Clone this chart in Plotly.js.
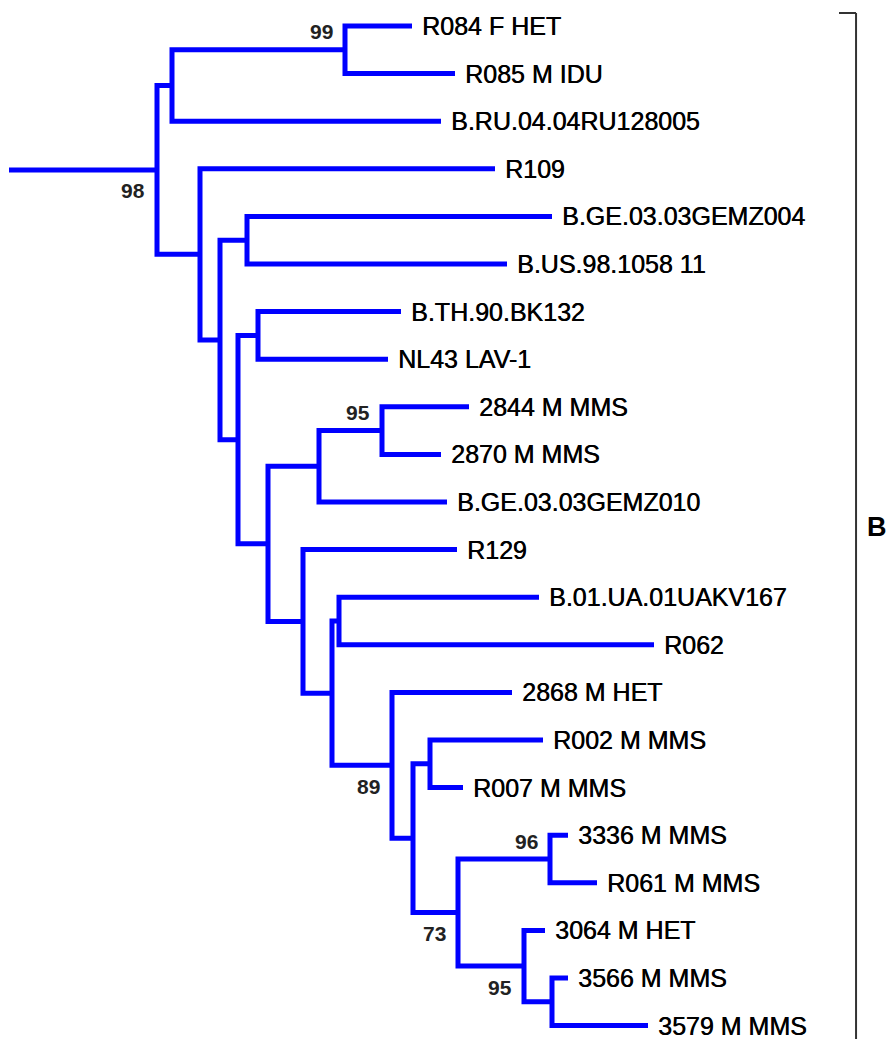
<!DOCTYPE html>
<html>
<head>
<meta charset="utf-8">
<script src="https://cdn.plot.ly/plotly-3.0.1.min.js"></script>
<style>
  html, body { margin: 0; padding: 0; background: #ffffff; }
  #tree { width: 887px; height: 1039px; }
</style>
</head>
<body>
<div id="tree"></div>
<script>
// Phylogenetic tree, subtype B cluster.
// Nodes listed in drawing order (depth-first); leaves are nodes without children.
const nodeIds = [
  'root', 'a', 'n99', 'R084 F HET', 'R085 M IDU', 'B.RU.04.04RU128005',
  'b', 'R109', 'c', 'geus', 'B.GE.03.03GEMZ004', 'B.US.98.1058 11',
  'd', 'thnl', 'B.TH.90.BK132', 'NL43 LAV-1',
  'e', 'f', 'n95a', '2844 M MMS', '2870 M MMS', 'B.GE.03.03GEMZ010',
  'g', 'R129', 'h', 'uar', 'B.01.UA.01UAKV167', 'R062',
  'i', '2868 M HET', 'j', 'k', 'R002 M MMS', 'R007 M MMS',
  'l', 'n96', '3336 M MMS', 'R061 M MMS', 'n95b', '3064 M HET', 'm', '3566 M MMS', '3579 M MMS'
];
const parentIds = [
  null, 'root', 'a', 'n99', 'n99', 'a',
  'root', 'b', 'b', 'c', 'geus', 'geus',
  'c', 'd', 'thnl', 'thnl',
  'd', 'e', 'f', 'n95a', 'n95a', 'f',
  'e', 'g', 'g', 'h', 'uar', 'uar',
  'h', 'i', 'i', 'j', 'k', 'k',
  'j', 'l', 'n96', 'n96', 'l', 'n95b', 'n95b', 'm', 'm'
];
const branchLengths = [
  0.148, 0.015, 0.173, 0.067, 0.110, 0.269,
  0.043, 0.295, 0.020, 0.027, 0.305, 0.260,
  0.018, 0.020, 0.143, 0.130,
  0.030, 0.051, 0.063, 0.087, 0.059, 0.128,
  0.035, 0.154, 0.029, 0.007, 0.200, 0.315,
  0.060, 0.120, 0.021, 0.017, 0.113, 0.033,
  0.045, 0.092, 0.018, 0.047, 0.066, 0.021, 0.028, 0.016, 0.096
];
// Bootstrap support on internal nodes
const supportNodes  = ['root', 'n99', 'n95a', 'i', 'n96', 'l', 'n95b'];
const supportValues = [98, 99, 95, 89, 96, 73, 95];
const cladeLabel = 'B';

// ---- layout of the tree: depth from cumulative branch length, leaf rank for y ----
const nodes = {};
nodeIds.forEach((id, k) => {
  nodes[id] = { id: id, parent: parentIds[k], len: branchLengths[k], children: [] };
});
nodeIds.forEach(id => { const p = nodes[id].parent; if (p) nodes[p].children.push(id); });

let leafRank = 0;
function place(id, parentDepth) {
  const n = nodes[id];
  n.x = parentDepth + n.len;
  if (n.children.length === 0) {
    n.y = leafRank++;
  } else {
    n.children.forEach(c => place(c, n.x));
    const ys = n.children.map(c => nodes[c].y);
    n.y = (Math.min(...ys) + Math.max(...ys)) / 2;
  }
}
place('root', 0);

// branch paths: stem plus one bracket per internal node
const lx = [], ly = [];
const root = nodes['root'];
lx.push(0, root.x, null); ly.push(root.y, root.y, null);
nodeIds.forEach(id => {
  const n = nodes[id];
  if (n.children.length === 0) return;
  const first = nodes[n.children[0]];
  const last = nodes[n.children[n.children.length - 1]];
  lx.push(first.x, n.x, n.x, last.x, null);
  ly.push(first.y, first.y, last.y, last.y, null);
  n.children.slice(1, -1).forEach(c => {
    lx.push(n.x, nodes[c].x, null); ly.push(nodes[c].y, nodes[c].y, null);
  });
});

const branchTrace = {
  x: lx, y: ly, mode: 'lines', type: 'scatter',
  line: { color: '#0000ff', width: 5 },
  hoverinfo: 'skip', showlegend: false
};

const annotations = [];
const labelFont = {
  family: 'Liberation Sans, Arial, sans-serif', size: 25, color: '#000000',
  shadow: '0.5px 0 0 #000000'
};
nodeIds.forEach(id => {
  const n = nodes[id];
  if (n.children.length) return;
  annotations.push({
    x: n.x, y: n.y, xref: 'x', yref: 'y', text: id, showarrow: false,
    xanchor: 'left', yanchor: 'middle', xshift: 9, borderpad: 0, font: labelFont
  });
});

supportNodes.forEach((id, k) => {
  const n = nodes[id];
  const p = n.parent ? nodes[n.parent] : null;
  const above = p && p.children[0] === id;
  annotations.push({
    x: n.x, y: n.y, xref: 'x', yref: 'y', text: '<b>' + supportValues[k] + '</b>',
    showarrow: false, xanchor: 'right', yanchor: 'middle',
    xshift: -10, yshift: above ? 18 : -21,
    font: { family: 'Liberation Sans, Arial, sans-serif', size: 21, color: '#222222' }
  });
});

annotations.push({
  x: 0.976, y: 0.493, xref: 'paper', yref: 'paper', text: '<b>' + cladeLabel + '</b>',
  showarrow: false, xanchor: 'left', yanchor: 'middle', borderpad: 0,
  font: { family: 'Liberation Sans, Arial, sans-serif', size: 27, color: '#000000' }
});

const layout = {
  width: 887, height: 1039,
  margin: { l: 0, r: 0, t: 0, b: 0 },
  paper_bgcolor: '#ffffff', plot_bgcolor: '#ffffff',
  xaxis: { range: [-0.009, 0.878], visible: false, fixedrange: true },
  yaxis: { range: [21.281, -0.5462], visible: false, fixedrange: true },
  annotations: annotations,
  shapes: [
    { type: 'line', xref: 'paper', yref: 'paper', x0: 0.9459, x1: 0.9651, y0: 0.9875, y1: 0.9875,
      line: { color: '#333333', width: 2 } },
    { type: 'line', xref: 'paper', yref: 'paper', x0: 0.9651, x1: 0.9651, y0: 0.9875, y1: -0.01,
      line: { color: '#333333', width: 2 } }
  ],
  showlegend: false
};

Plotly.newPlot('tree', [branchTrace], layout, { staticPlot: true, displayModeBar: false });
</script>
</body>
</html>
